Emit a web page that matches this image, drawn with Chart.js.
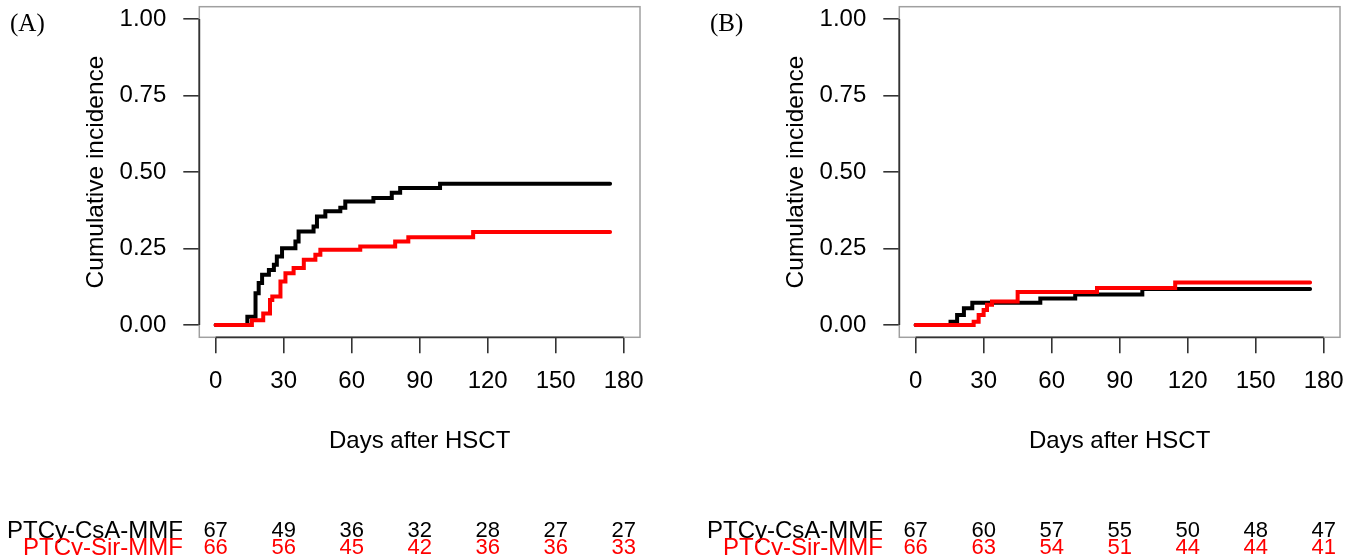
<!DOCTYPE html>
<html lang="en">
<head>
<meta charset="UTF-8">
<title>Cumulative incidence after HSCT</title>
<style>
    body { margin: 0; background: #fff; }
    .wrap { position: relative; width: 1362px; height: 555px; background: #fff; }
    canvas { position: absolute; top: 0; }
    #chartA { left: 0; }
    #chartB { left: 700px; }
</style>
</head>
<body>
<div class="wrap">
    <canvas id="chartA" width="700" height="555"></canvas>
    <canvas id="chartB" width="662" height="555"></canvas>
</div>
<script src="https://cdn.jsdelivr.net/npm/chart.js@4/dist/chart.umd.min.js"></script>
<script>
    // axis ticks
    const dayTicks = [0, 30, 60, 90, 120, 150, 180];
    const incTicks = [0, 0.25, 0.5, 0.75, 1];
    const groupNames = ['PTCy-CsA-MMF', 'PTCy-Sir-MMF'];

    // (A) step curves: day of jump, value after jump
    const daysA_csa = [0, 14, 17.6, 19, 20.5, 23.5, 25.7, 27, 29.3, 35.2, 36.6, 43.2, 44.7, 48.4, 55, 57.2, 69.6, 77.7, 81.4, 99, 174];
    const incA_csa  = [0, 0.027, 0.104, 0.137, 0.164, 0.18, 0.197, 0.224, 0.251, 0.273, 0.306, 0.322, 0.355, 0.372, 0.383, 0.404, 0.415, 0.432, 0.448, 0.462, 0.462];
    const daysA_sir = [0, 16, 21, 24, 25, 28.6, 30.8, 34.4, 38.9, 44, 46.2, 63.8, 79.2, 85, 113.6, 174];
    const incA_sir  = [0, 0.016, 0.038, 0.082, 0.093, 0.142, 0.169, 0.186, 0.213, 0.23, 0.246, 0.257, 0.273, 0.287, 0.304, 0.304];

    // (B)
    const daysB_csa = [0, 15.4, 18.3, 21.3, 25, 55, 70.4, 100, 174];
    const incB_csa  = [0, 0.011, 0.033, 0.055, 0.073, 0.087, 0.1, 0.118, 0.118];
    const daysB_sir = [0, 25.6, 27.8, 30, 31.5, 33.7, 45, 80, 114.5, 174];
    const incB_sir  = [0, 0.011, 0.033, 0.049, 0.066, 0.077, 0.108, 0.121, 0.139, 0.139];

    // numbers at risk
    const riskA_csa = [67, 49, 36, 32, 28, 27, 27];
    const riskA_sir = [66, 56, 45, 42, 36, 36, 33];
    const riskB_csa = [67, 60, 57, 55, 50, 48, 47];
    const riskB_sir = [66, 63, 54, 51, 44, 44, 41];

    const SANS = '"Liberation Sans", Arial, sans-serif';
    const RED = '#ff0000';

    function toPoints(days, inc) {
        return days.map((d, i) => ({x: d, y: inc[i]}));
    }

    function makePanel(id, label, csa, sir, riskCsa, riskSir, rightPad) {
        // box, axis lines, panel letter and risk table
        const extras = {
            id: 'extras',
            beforeDatasetsDraw(chart) {
                const ctx = chart.ctx;
                const ca = chart.chartArea;
                const xs = chart.scales.x;
                const ys = chart.scales.y;
                ctx.save();
                ctx.strokeStyle = '#a0a0a0';
                ctx.lineWidth = 1.5;
                ctx.strokeRect(ca.left, ca.top, ca.right - ca.left, ca.bottom - ca.top);
                ctx.strokeStyle = '#333';
                ctx.lineWidth = 1.8;
                ctx.beginPath();
                ctx.moveTo(ca.left, ys.getPixelForValue(0));
                ctx.lineTo(ca.left, ys.getPixelForValue(1));
                ctx.moveTo(xs.getPixelForValue(0), ca.bottom);
                ctx.lineTo(xs.getPixelForValue(180), ca.bottom);
                ctx.stroke();
                ctx.restore();
            },
            afterDraw(chart) {
                const ctx = chart.ctx;
                const xs = chart.scales.x;
                ctx.save();
                ctx.textBaseline = 'middle';
                ctx.fillStyle = '#000';
                ctx.font = '25px "Liberation Serif", "Times New Roman", serif';
                ctx.textAlign = 'left';
                ctx.fillText(label, 10, 24);

                const rows = [[riskCsa, '#000', 531], [riskSir, RED, 548]];
                rows.forEach((r, k) => {
                    ctx.fillStyle = r[1];
                    ctx.textAlign = 'right';
                    ctx.font = '24px ' + SANS;
                    ctx.fillText(groupNames[k], 183, r[2]);
                    ctx.textAlign = 'center';
                    ctx.font = '22px ' + SANS;
                    r[0].forEach((n, i) => {
                        ctx.fillText(String(n), xs.getPixelForValue(dayTicks[i]), r[2]);
                    });
                });
                ctx.restore();
            }
        };

        new Chart(document.getElementById(id), {
            type: 'line',
            data: {
                datasets: [
                    {
                        label: groupNames[1],
                        data: toPoints(sir[0], sir[1]),
                        borderColor: RED,
                        borderWidth: 4,
                        stepped: 'before',
                        pointRadius: 0,
                        fill: false,
                        borderCapStyle: 'round'
                    },
                    {
                        label: groupNames[0],
                        data: toPoints(csa[0], csa[1]),
                        borderColor: '#000',
                        borderWidth: 4,
                        stepped: 'before',
                        pointRadius: 0,
                        fill: false,
                        borderCapStyle: 'round'
                    }
                ]
            },
            options: {
                responsive: false,
                animation: false,
                layout: {padding: {top: 6.7, bottom: 99.6, left: 0, right: rightPad}},
                plugins: {legend: {display: false}, tooltip: {enabled: false}},
                scales: {
                    x: {
                        type: 'linear',
                        min: -7.2,
                        max: 187.2,
                        afterBuildTicks: s => { s.ticks = dayTicks.map(v => ({value: v})); },
                        afterFit: s => { s.height = 118.1; s.paddingLeft = 0; s.paddingRight = 0; },
                        ticks: {color: '#000', font: {family: SANS, size: 24}, padding: 14, maxRotation: 0},
                        grid: {drawOnChartArea: false, tickLength: 16, color: '#333', lineWidth: 1.6},
                        border: {display: false},
                        title: {display: true, text: 'Days after HSCT', color: '#000',
                                font: {family: SANS, size: 24}, padding: {top: 0, bottom: 0}}
                    },
                    y: {
                        type: 'linear',
                        min: -0.04,
                        max: 1.04,
                        afterBuildTicks: s => { s.ticks = incTicks.map(v => ({value: v})); },
                        afterFit: s => { s.width = 199.3; s.paddingTop = 0; s.paddingBottom = 0; },
                        ticks: {color: '#000', font: {family: SANS, size: 24}, padding: 17,
                                callback: v => Number(v).toFixed(2)},
                        grid: {drawOnChartArea: false, tickLength: 16, color: '#333', lineWidth: 1.6},
                        border: {display: false},
                        title: {display: true, text: 'Cumulative incidence', color: '#000',
                                font: {family: SANS, size: 24.5}, padding: {top: 81.5, bottom: 0}}
                    }
                }
            },
            plugins: [extras]
        });
    }

    makePanel('chartA', '(A)', [daysA_csa, incA_csa], [daysA_sir, incA_sir], riskA_csa, riskA_sir, 60);
    makePanel('chartB', '(B)', [daysB_csa, incB_csa], [daysB_sir, incB_sir], riskB_csa, riskB_sir, 22);
</script>
</body>
</html>
